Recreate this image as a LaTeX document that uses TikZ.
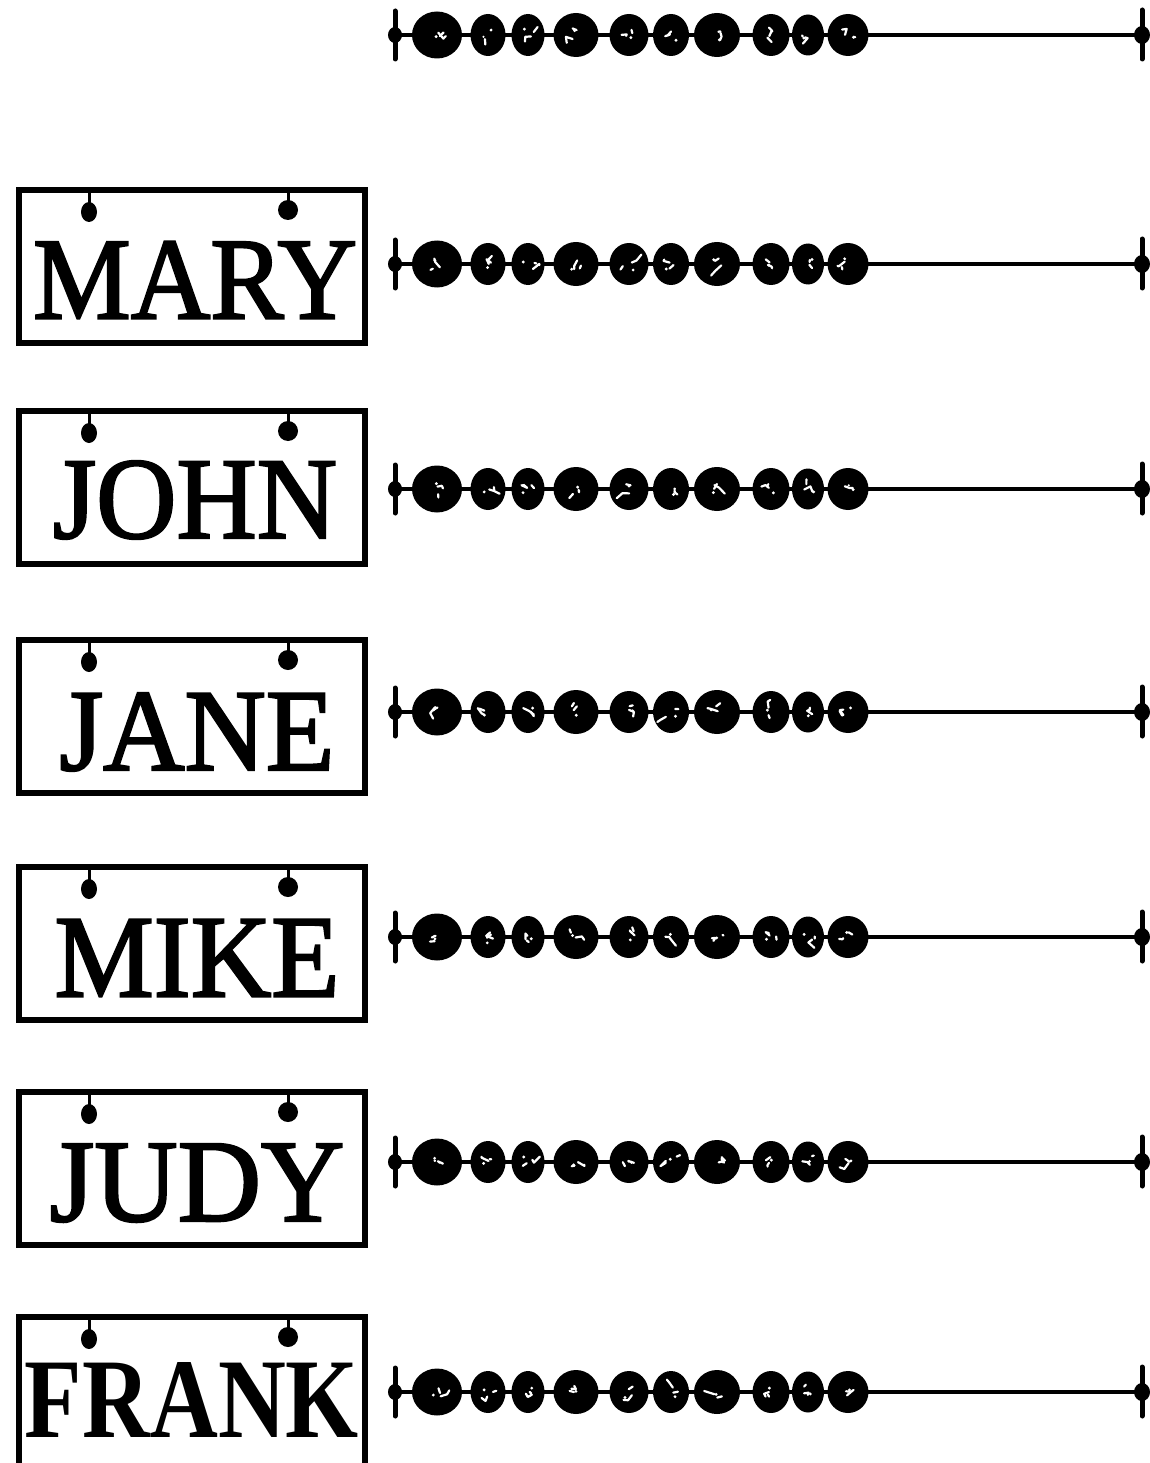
\documentclass[tikz,border=0pt]{standalone}
\usepackage{fontspec}
\setmainfont{Liberation Serif}
\newfontfamily\platefont{Liberation Serif}[FakeBold=2]
\newfontfamily\platefontbf{Liberation Serif Bold}
\usetikzlibrary{shapes.geometric,calc}
\newcommand\abacusrow[2]{%
  \coordinate (#1L) at (395,#2);
  \coordinate (#1R) at (1142,#2);
  \draw[wire] (#1L) -- (#1R);
  \draw[endbar] ($(#1L)+(0,-24)$) -- ($(#1L)+(0,24)$);
  \draw[endbar] ($(#1R)+(0,-25)$) -- ($(#1R)+(0,24)$);
  \fill (#1L) ellipse[x radius=7, y radius=8];
  \fill (#1R) ellipse[x radius=8, y radius=9];
  \foreach \cx/\w/\h [count=\i] in {437/50/47, 488/35/42, 528/33/42, 576/45/44, 629/39/42, 671/36/42, 717/46/44, 771/37/42, 808/32/41, 848/41/42}{
    \node[bead, minimum width=\w pt, minimum height=\h pt] (#1b\i) at (\cx,#2) {};
    \draw[speck] ($(#1b\i.center)+(rand*6,rand*5)$) -- ++(rand*7,rand*6) -- ++(rand*6,rand*6);
    \draw[speck] ($(#1b\i.center)+(rand*7,rand*6)$) -- ++(rand*5,rand*5);
    \fill[white] ($(#1b\i.center)+(rand*6,rand*6)$) circle[radius=1.6];
  }
}
\newcommand\nameplate[7]{%
  \node[plate] (#1) at (192,{#2+76.5}) {};
  \coordinate (#1h1) at (89,{#2+22});
  \coordinate (#1h2) at (288,{#2+20});
  \draw[hanger] (89,#2) -- (#1h1);
  \draw[hanger] (288,#2) -- (#1h2);
  \fill (#1h1) ellipse[x radius=8, y radius=10];
  \fill (#1h2) ellipse[x radius=10, y radius=10];
  \node[inner sep=0pt] (#1t) at (#4,{#2+#5}) {\resizebox{#6pt}{#7pt}{#3}};
}
\begin{document}
\begin{tikzpicture}[x=1pt,y=-1pt,
  wire/.style={line width=4.5pt},
  endbar/.style={line width=5pt, line cap=round},
  bead/.style={ellipse, fill=black, inner sep=0pt, outer sep=0pt},
  speck/.style={white, line width=2.2pt, line cap=round, line join=round},
  plate/.style={draw, line width=6pt, minimum width=346pt, minimum height=153pt, inner sep=0pt},
  hanger/.style={line width=3pt}]
\useasboundingbox (0,0) rectangle (1150,1463);
\pgfmathsetseed{7}
\abacusrow{top}{35}
\abacusrow{mary}{264}
\abacusrow{john}{489}
\abacusrow{jane}{712}
\abacusrow{mike}{937}
\abacusrow{judy}{1162}
\abacusrow{frank}{1392}
\nameplate{pmary}{190}{\fontsize{110}{110}\platefont MARY}{195}{90}{324}{77}
\nameplate{pjohn}{411}{\fontsize{110}{110}\platefont JOHN}{195}{89}{284}{77}
\nameplate{pjane}{640}{\fontsize{110}{110}\platefont JANE}{197}{92}{275}{77}
\nameplate{pmike}{867}{\fontsize{110}{110}\platefont MIKE}{197}{91}{285}{77}
\nameplate{pjudy}{1092}{\fontsize{110}{110}\platefont JUDY}{197}{91}{295}{77}
\nameplate{pfrank}{1317}{\fontsize{110}{110}\platefontbf FRANK}{192}{83}{334}{75}
\end{tikzpicture}
\end{document}
